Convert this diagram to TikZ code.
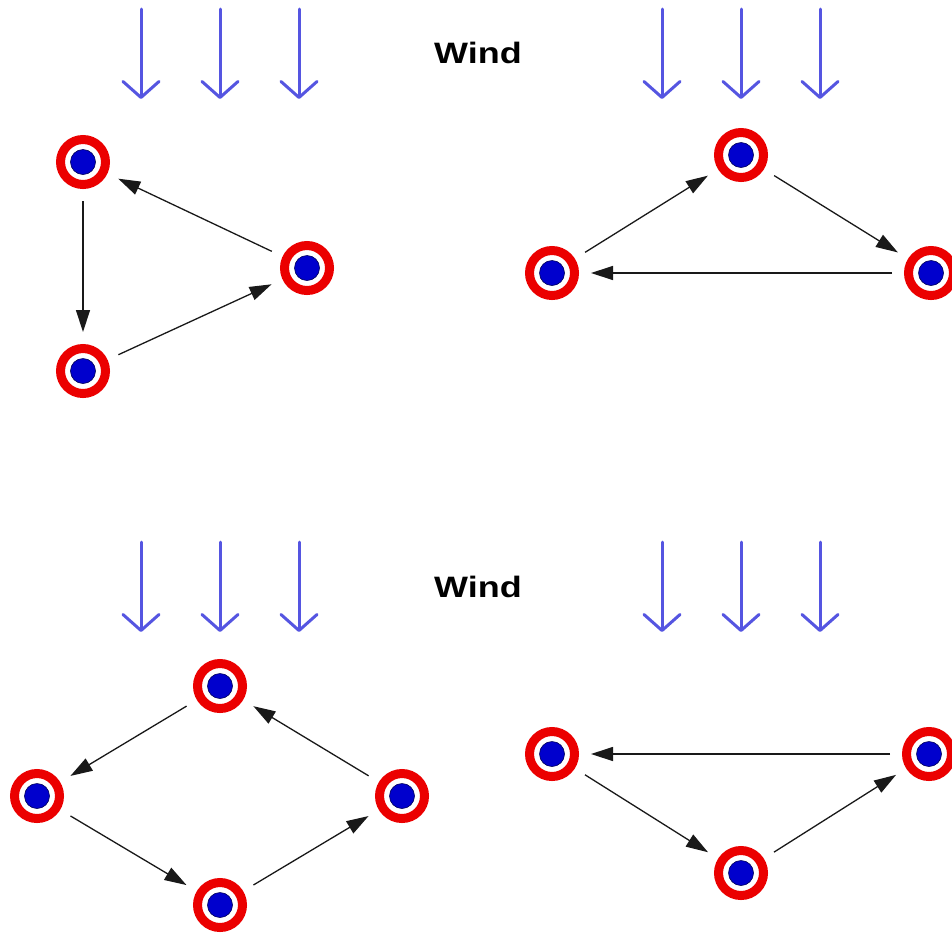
\documentclass[tikz,border=0pt]{standalone}
\usepackage{fontspec}
\setmainfont{Liberation Sans}
\usetikzlibrary{arrows.meta}
\definecolor{ringred}{RGB}{235,0,0}
\definecolor{dotblue}{RGB}{0,0,205}
\definecolor{dotedge}{RGB}{0,0,90}
\definecolor{windblue}{RGB}{85,85,225}
\tikzset{
  target/.style={circle, draw=ringred, line width=9pt, fill=white,
    minimum size=45pt, inner sep=0pt, outer sep=16.5pt,
    path picture={\filldraw[fill=dotblue, draw=dotedge, line width=0.6pt]
      (path picture bounding box.center) circle (12.5pt);}},
  link/.style={draw=black!90, line width=1.3pt,
    -{Triangle[length=22pt,width=14pt]}},
  windarrow/.style={draw=windblue, line width=3pt, line cap=round,
    -{Straight Barb[length=16pt,width=36pt,round]}},
  windlabel/.style={font=\fontsize{29.5}{30}\selectfont\bfseries, inner sep=0pt}
}
\begin{document}
\begin{tikzpicture}[x=1pt,y=-1pt]
\useasboundingbox (0,0) rectangle (952,932);
% wind arrows
\foreach \x in {141,220,299,662,741,820}{
  \coordinate (wt\x) at (\x,9);
  \coordinate (wb\x) at (\x,99);
  \draw[windarrow] (wt\x) -- (wb\x);
  \coordinate (vt\x) at (\x,542);
  \coordinate (vb\x) at (\x,632);
  \draw[windarrow] (vt\x) -- (vb\x);
}
\node[windlabel] (wind1) at (478,53) {\scalebox{1.22}[1]{Wind}};
\node[windlabel] (wind2) at (478,587) {\scalebox{1.22}[1]{Wind}};
% top-left
\node[target] (A) at (83,162) {};
\node[target] (B) at (307,268) {};
\node[target] (C) at (83,371) {};
\draw[link] (B) -- (A);
\draw[link] (A) -- (C);
\draw[link] (C) -- (B);
% top-right
\node[target] (D) at (741,155) {};
\node[target] (E) at (552,273) {};
\node[target] (F) at (931,273) {};
\draw[link] (E) -- (D);
\draw[link] (D) -- (F);
\draw[link] (F) -- (E);
% bottom-left
\node[target] (G) at (220,686) {};
\node[target] (H) at (37,796) {};
\node[target] (I) at (402,796) {};
\node[target] (J) at (220,905) {};
\draw[link] (G) -- (H);
\draw[link] (H) -- (J);
\draw[link] (J) -- (I);
\draw[link] (I) -- (G);
% bottom-right
\node[target] (K) at (552,754) {};
\node[target] (L) at (929,754) {};
\node[target] (M) at (741,873) {};
\draw[link] (L) -- (K);
\draw[link] (K) -- (M);
\draw[link] (M) -- (L);
\end{tikzpicture}
\end{document}
